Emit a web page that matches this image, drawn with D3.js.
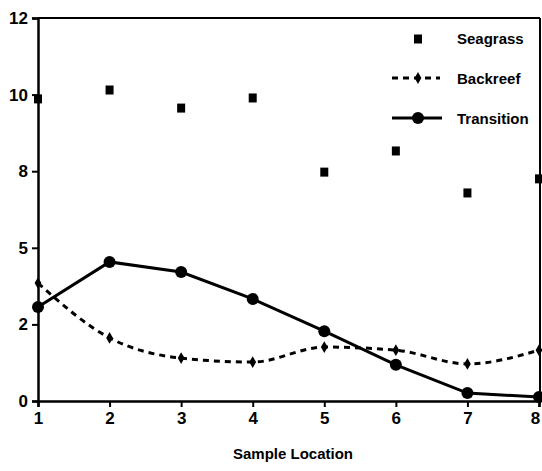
<!DOCTYPE html>
<html>
<head>
<meta charset="utf-8">
<script src="https://cdn.jsdelivr.net/npm/d3@7"></script>
<style>
  body { margin: 0; background: #fff; }
  svg text { font-family: "Liberation Sans Narrow", "Liberation Sans", Arial, sans-serif; font-weight: bold; fill: #000; }
</style>
</head>
<body>
<div id="chart"></div>
<script>
// data
const locations = [1, 2, 3, 4, 5, 6, 7, 8]
const seagrass = [9.86, 10.15, 9.56, 9.89, 7.47, 8.16, 6.79, 7.25]
const backreef = [3.85, 2.06, 1.40, 1.27, 1.76, 1.66, 1.21, 1.66]
const transition = [3.07, 4.54, 4.21, 3.33, 2.28, 1.18, 0.26, 0.13]
const yTickValues = [0, 2.5, 5, 7.5, 10, 12.5]
const yTickLabels = ["0", "2", "5", "8", "10", "12"]

const width = 542
const height = 471
const plotLeft = 38, plotRight = 539, plotTop = 18, plotBottom = 401

const x = d3.scaleLinear().domain([1, 8]).range([plotLeft, plotRight])
const y = d3.scaleLinear().domain([0, 12.5]).range([plotBottom, plotTop])

const svg = d3.select("#chart")
    .append("svg")
    .attr("width", width)
    .attr("height", height)

// frame: top and right edges
svg.append("line")
    .attr("x1", plotLeft).attr("x2", plotRight + 1)
    .attr("y1", plotTop).attr("y2", plotTop)
    .attr("stroke", "#000").attr("stroke-width", 2)
svg.append("line")
    .attr("x1", plotRight + 1).attr("x2", plotRight + 1)
    .attr("y1", plotTop).attr("y2", plotBottom)
    .attr("stroke", "#000").attr("stroke-width", 2)

// axes
const yAxis = d3.axisLeft(y)
    .tickValues(yTickValues)
    .tickFormat((d, i) => yTickLabels[i])
    .tickSize(6)
    .tickPadding(4)
svg.append("g")
    .attr("transform", `translate(${plotLeft},0)`)
    .call(yAxis)

const xAxis = d3.axisBottom(x)
    .tickValues(locations)
    .tickFormat(d3.format("d"))
    .tickSize(6)
    .tickPadding(5)
const gx = svg.append("g")
    .attr("transform", `translate(0,${plotBottom})`)
    .call(xAxis)

svg.selectAll(".domain").attr("stroke", "#000").attr("stroke-width", 2.5)
svg.selectAll(".tick line").attr("stroke", "#000").attr("stroke-width", 2)
svg.selectAll(".tick text").style("font-size", "17px")
// last label sits on the window edge, nudge it in
gx.selectAll(".tick text").filter(d => d === 8).attr("dx", -4)

// x-axis title
svg.append("text")
    .attr("x", 293)
    .attr("y", 459)
    .attr("text-anchor", "middle")
    .style("font-size", "15px")
    .text("Sample Location")

const smoothLine = d3.line()
    .x((d, i) => x(locations[i]))
    .y(d => y(d))
    .curve(d3.curveMonotoneX)

const straightLine = d3.line()
    .x((d, i) => x(locations[i]))
    .y(d => y(d))

// Backreef dashed line + diamonds
svg.append("path")
    .datum(backreef)
    .attr("d", smoothLine)
    .attr("fill", "none")
    .attr("stroke", "#000")
    .attr("stroke-width", 3)
    .attr("stroke-dasharray", "6,5")

const diamond = d3.symbol().type(d3.symbolDiamond).size(40)
svg.selectAll(".diamond")
    .data(backreef)
    .enter()
    .append("path")
    .attr("class", "diamond")
    .attr("d", diamond)
    .attr("transform", (d, i) => `translate(${x(locations[i])},${y(d)})`)
    .attr("fill", "#000")

// Transition solid line + circles
svg.append("path")
    .datum(transition)
    .attr("d", straightLine)
    .attr("fill", "none")
    .attr("stroke", "#000")
    .attr("stroke-width", 3)

svg.selectAll(".dot")
    .data(transition)
    .enter()
    .append("circle")
    .attr("class", "dot")
    .attr("cx", (d, i) => x(locations[i]))
    .attr("cy", d => y(d))
    .attr("r", 6)
    .attr("fill", "#000")

// Seagrass squares
svg.selectAll(".square")
    .data(seagrass)
    .enter()
    .append("rect")
    .attr("class", "square")
    .attr("x", (d, i) => x(locations[i]) - 4)
    .attr("y", d => y(d) - 4.5)
    .attr("width", 8)
    .attr("height", 9)
    .attr("fill", "#000")

// legend
const legend = svg.append("g")
legend.append("rect")
    .attr("x", 414).attr("y", 34.5)
    .attr("width", 8).attr("height", 9)
    .attr("fill", "#000")
legend.append("line")
    .attr("x1", 392).attr("x2", 440)
    .attr("y1", 78).attr("y2", 78)
    .attr("stroke", "#000").attr("stroke-width", 3)
    .attr("stroke-dasharray", "6,5")
legend.append("path")
    .attr("d", diamond)
    .attr("transform", "translate(418,78)")
    .attr("fill", "#000")
legend.append("line")
    .attr("x1", 392).attr("x2", 442)
    .attr("y1", 118).attr("y2", 118)
    .attr("stroke", "#000").attr("stroke-width", 3)
legend.append("circle")
    .attr("cx", 418).attr("cy", 118).attr("r", 6)
    .attr("fill", "#000")

const legendNames = ["Seagrass", "Backreef", "Transition"]
legend.selectAll(".legend-label")
    .data(legendNames)
    .enter()
    .append("text")
    .attr("class", "legend-label")
    .attr("x", 457)
    .attr("y", (d, i) => 39 + i * 40)
    .attr("dy", "0.35em")
    .style("font-size", "15px")
    .text(d => d)
</script>
</body>
</html>
